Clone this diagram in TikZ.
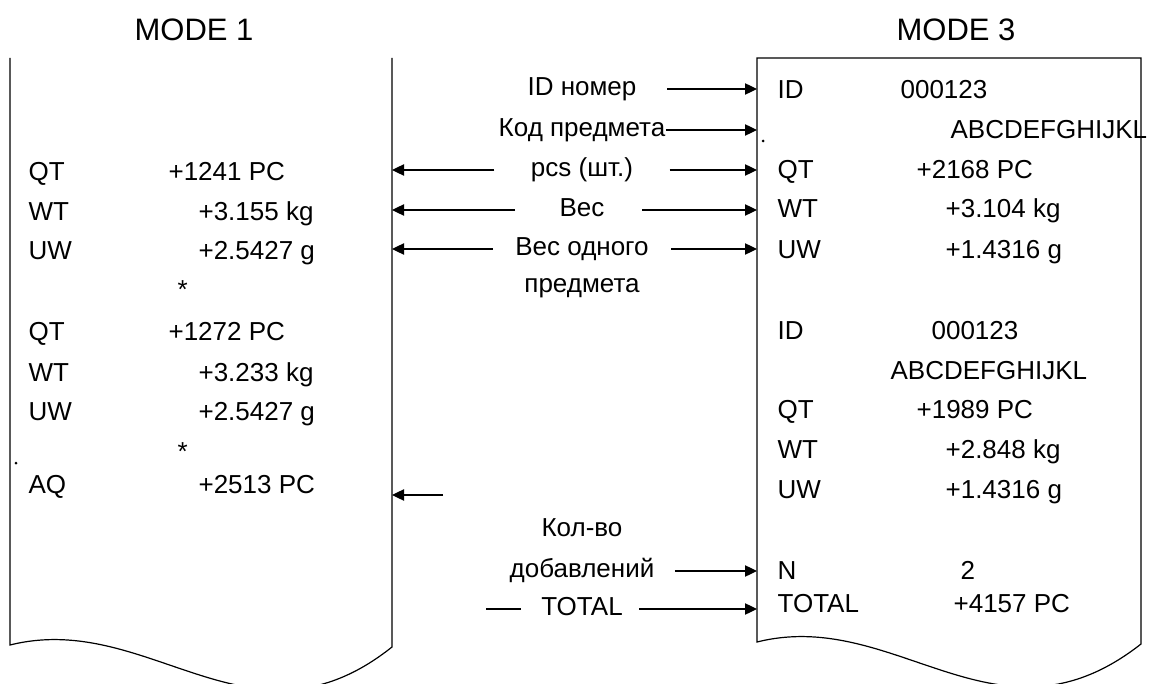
\documentclass[tikz,border=0pt]{standalone}
\usepackage{fontspec}
\setmainfont{Liberation Sans}
\usepackage{tikz}
\usetikzlibrary{calc,arrows.meta,positioning}

\tikzset{
  row/.style={anchor=base west, inner sep=0pt},
  lab/.style={inner sep=0pt, text height=13.6pt, text depth=3.9pt},
  arr/.style={-{Triangle[length=9pt,width=8.5pt]}},
}

\begin{document}
\begin{tikzpicture}[x=0.75pt, y=-0.75pt, line width=0.9pt,
    font=\fontsize{19.5pt}{23pt}\selectfont]
  \useasboundingbox (0,0) rectangle (1149,684);
  \coordinate (L) at (392,0);
  \coordinate (R) at (757,0);

  % paper strips
  \draw (10,58) -- (10,645) .. controls (150,610) and (250,760) .. (392,647) -- (392,58);
  \draw (757,642) .. controls (897,607) and (997,757) .. (1141,644) -- (1141,58) -- (757,58) -- cycle;
  \fill (16,463) circle (1.5);
  \fill (763,141) circle (1.5);

  \node[anchor=base, inner sep=0pt, font=\fontsize{23.25pt}{27pt}\selectfont] (m1) at (194,41) {MODE 1};
  \node[anchor=base, inner sep=0pt, font=\fontsize{23.25pt}{27pt}\selectfont] (m3) at (956,41) {MODE 3};

  % MODE 1
  \node[row] (lq1) at (28,181) {QT};
  \node[row] (lq1v) at (168,181) {+1241 PC};
  \node[row] (lw1) at (28,221) {WT};
  \node[row] (lw1v) at (198,221) {+3.155 kg};
  \node[row] (lu1) at (28,260) {UW};
  \node[row] (lu1v) at (198,260) {+2.5427 g};
  \node[row] (ls1) at (177,299) {*};
  \node[row] (lq2) at (28,340) {QT};
  \node[row] (lq2v) at (168,340) {+1272 PC};
  \node[row] (lw2) at (28,381) {WT};
  \node[row] (lw2v) at (198,381) {+3.233 kg};
  \node[row] (lu2) at (28,420) {UW};
  \node[row] (lu2v) at (198,420) {+2.5427 g};
  \node[row] (ls2) at (177,460) {*};
  \node[row] (laq) at (28,493) {AQ};
  \node[row] (laqv) at (198,493) {+2513 PC};

  % MODE 3
  \node[row] (rid1) at (777,99) {ID};
  \node[row] (rid1v) at (900,99) {000123};
  \node[row] (rcd1) at (950,139) {ABCDEFGHIJKL};
  \node[row] (rq1) at (777,179) {QT};
  \node[row] (rq1v) at (916,179) {+2168 PC};
  \node[row] (rw1) at (777,218) {WT};
  \node[row] (rw1v) at (945,218) {+3.104 kg};
  \node[row] (ru1) at (777,258) {UW};
  \node[row] (ru1v) at (945,258) {+1.4316 g};
  \node[row] (rid2) at (777,339) {ID};
  \node[row] (rid2v) at (931,339) {000123};
  \node[row] (rcd2) at (890,379) {ABCDEFGHIJKL};
  \node[row] (rq2) at (777,418) {QT};
  \node[row] (rq2v) at (916,418) {+1989 PC};
  \node[row] (rw2) at (777,458) {WT};
  \node[row] (rw2v) at (945,458) {+2.848 kg};
  \node[row] (ru2) at (777,498) {UW};
  \node[row] (ru2v) at (945,498) {+1.4316 g};
  \node[row] (rn) at (777,579) {N};
  \node[row] (rnv) at (960,579) {2};
  \node[row] (rt) at (777,612) {TOTAL};
  \node[row] (rtv) at (953,612) {+4157 PC};

  % labels in the middle
  \node[lab] (idno) at (582,89) {ID номер};
  \node[lab] (code) at (582,130) {Код предмета};
  \node[lab] (pcs) at (582,170) {pcs (шт.)};
  \node[lab] (wt) at (582,210) {Вес};
  \node[lab] (uw) at (582,249) {Вес одного};
  \node[lab] (uwb) at (582,286.5) {предмета};
  \node[lab] (cnt) at (582,530) {Кол-во};
  \node[lab] (cntb) at (582,571) {добавлений};
  \node[lab] (tot) at (582,609) {TOTAL};
  \coordinate (aqfree) at (443,495);

  \draw[arr] ($(idno.east)+(30,0)$) -- (idno -| R);
  \draw[arr] (code.east) -- (code -| R);
  \draw[arr] ($(pcs.east)+(36,0)$) -- (pcs -| R);
  \draw[arr] ($(pcs.west)-(36,0)$) -- (pcs -| L);
  \draw[arr] ($(wt.east)+(37,0)$) -- (wt -| R);
  \draw[arr] ($(wt.west)-(44,0)$) -- (wt -| L);
  \draw[arr] ($(uw.east)+(22,0)$) -- (uw -| R);
  \draw[arr] ($(uw.west)-(22,0)$) -- (uw -| L);
  \draw[arr] (aqfree) -- (aqfree -| L);
  \draw[arr] ($(cntb.east)+(20,0)$) -- (cntb -| R);
  \draw[arr] ($(tot.east)+(16,0)$) -- (tot -| R);
  \draw ($(tot.west)-(20,0)$) -- ++(-35,0);
\end{tikzpicture}
\end{document}
